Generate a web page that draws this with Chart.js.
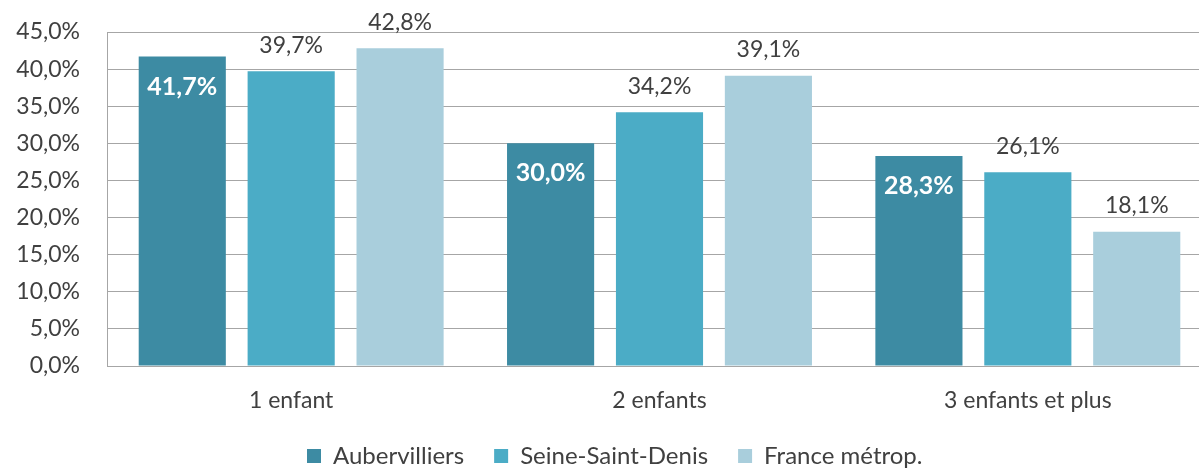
<!DOCTYPE html>
<html>
<head>
<meta charset="utf-8">
<script src="https://cdn.jsdelivr.net/npm/chart.js@4.4.0/dist/chart.umd.min.js"></script>
<style>
  html, body { margin: 0; padding: 0; background: #fff; }
  #wrap { width: 1199px; height: 468px; }
</style>
</head>
<body>
<div id="wrap"><canvas id="chart" width="1199" height="468"></canvas></div>
<script>
const categories = ['1 enfant', '2 enfants', '3 enfants et plus'];
const seriesNames = ['Aubervilliers', 'Seine-Saint-Denis', 'France métrop.'];
const aubervilliers = [41.7, 30.0, 28.3];
const seineSaintDenis = [39.7, 34.2, 26.1];
const franceMetrop = [42.8, 39.1, 18.1];
const colors = ['#3D8BA3', '#4BACC6', '#A9CEDC'];

const fmt = (v) => v.toFixed(1).replace('.', ',') + '%';
const FONT = 'Lato, "Open Sans", sans-serif';
const TEXT = '#404040';
const PLOT_BOTTOM = 366;
const PLOT_OVERFLOW = 13; // la zone de tracé déborde à droite comme dans l'original
const LEGEND_PAD = 30;

// etiquettes de valeurs (pas de plugin datalabels dispo)
const valueLabels = {
    id: 'valueLabels',
    afterDatasetsDraw(chart) {
        const ctx = chart.ctx;
        chart.data.datasets.forEach((ds, i) => {
            const meta = chart.getDatasetMeta(i);
            meta.data.forEach((bar, j) => {
                const v = ds.data[j];
                ctx.save();
                ctx.textAlign = 'center';
                ctx.textBaseline = 'middle';
                if (i === 0) {
                    // à l'intérieur, blanc gras
                    ctx.fillStyle = '#ffffff';
                    ctx.font = 'bold 25px ' + FONT;
                    ctx.fillText(fmt(v), bar.x, bar.y + 30);
                } else {
                    ctx.fillStyle = TEXT;
                    ctx.font = '23px ' + FONT;
                    ctx.fillText(fmt(v), bar.x, bar.y - 26);
                }
                ctx.restore();
            });
        });
    }
};

// légende : hauteur fixe + placement, et débord à droite
const layoutTweak = {
    id: 'layoutTweak',
    beforeLayout(chart) {
        const lg = chart.legend;
        if (lg && !lg._patched) {
            const fit = lg.fit;
            lg.fit = function () { fit.call(this); this.height = 40; };
            lg._patched = true;
        }
    },
    afterLayout(chart) {
        const lg = chart.legend;
        lg.top = 456 - 12 - LEGEND_PAD;
        lg.bottom = chart.height;
        lg.height = lg.bottom - lg.top;
        lg.left = 307 - LEGEND_PAD;
        lg.right = chart.width;
        lg.width = lg.right - lg.left;

        const xs = chart.scales.x;
        xs.right += PLOT_OVERFLOW;
        xs.width += PLOT_OVERFLOW;
        chart.chartArea.right += PLOT_OVERFLOW;
        chart.chartArea.width += PLOT_OVERFLOW;
        xs.configure();
    }
};

const ctx = document.getElementById('chart').getContext('2d');
new Chart(ctx, {
    type: 'bar',
    data: {
        labels: categories,
        datasets: [
            { label: seriesNames[0], data: aubervilliers, backgroundColor: colors[0] },
            { label: seriesNames[1], data: seineSaintDenis, backgroundColor: colors[1] },
            { label: seriesNames[2], data: franceMetrop, backgroundColor: colors[2] }
        ]
    },
    options: {
        responsive: false,
        animation: false,
        categoryPercentage: 0.887,
        barPercentage: 0.8,
        layout: { padding: { top: 32, right: 0, left: 0, bottom: 0 } },
        plugins: {
            legend: {
                position: 'bottom',
                align: 'start',
                labels: {
                    boxWidth: 14,
                    boxHeight: 14,
                    color: TEXT,
                    padding: LEGEND_PAD,
                    font: { family: FONT, size: 24 }
                }
            },
            tooltip: { enabled: false }
        },
        scales: {
            x: {
                grid: { display: false, drawTicks: false },
                border: { display: true, color: '#A6A6A6', width: 1 },
                ticks: { color: TEXT, padding: 21, font: { family: FONT, size: 23 } },
                afterFit: (s) => {
                    s.height = s.chart.height - PLOT_BOTTOM - s.chart.legend.height;
                }
            },
            y: {
                min: 0,
                max: 45,
                ticks: {
                    stepSize: 5,
                    color: TEXT,
                    padding: 2,
                    font: { family: FONT, size: 23 },
                    callback: (v) => fmt(v)
                },
                grid: {
                    color: '#A6A6A6',
                    lineWidth: 1,
                    drawTicks: true,
                    tickLength: 25,
                    tickColor: 'rgba(0,0,0,0)'
                },
                border: { display: true, color: '#A6A6A6', width: 1 },
                afterFit: (s) => { s.width = 107; }
            }
        }
    },
    plugins: [valueLabels, layoutTweak]
});
</script>
</body>
</html>
